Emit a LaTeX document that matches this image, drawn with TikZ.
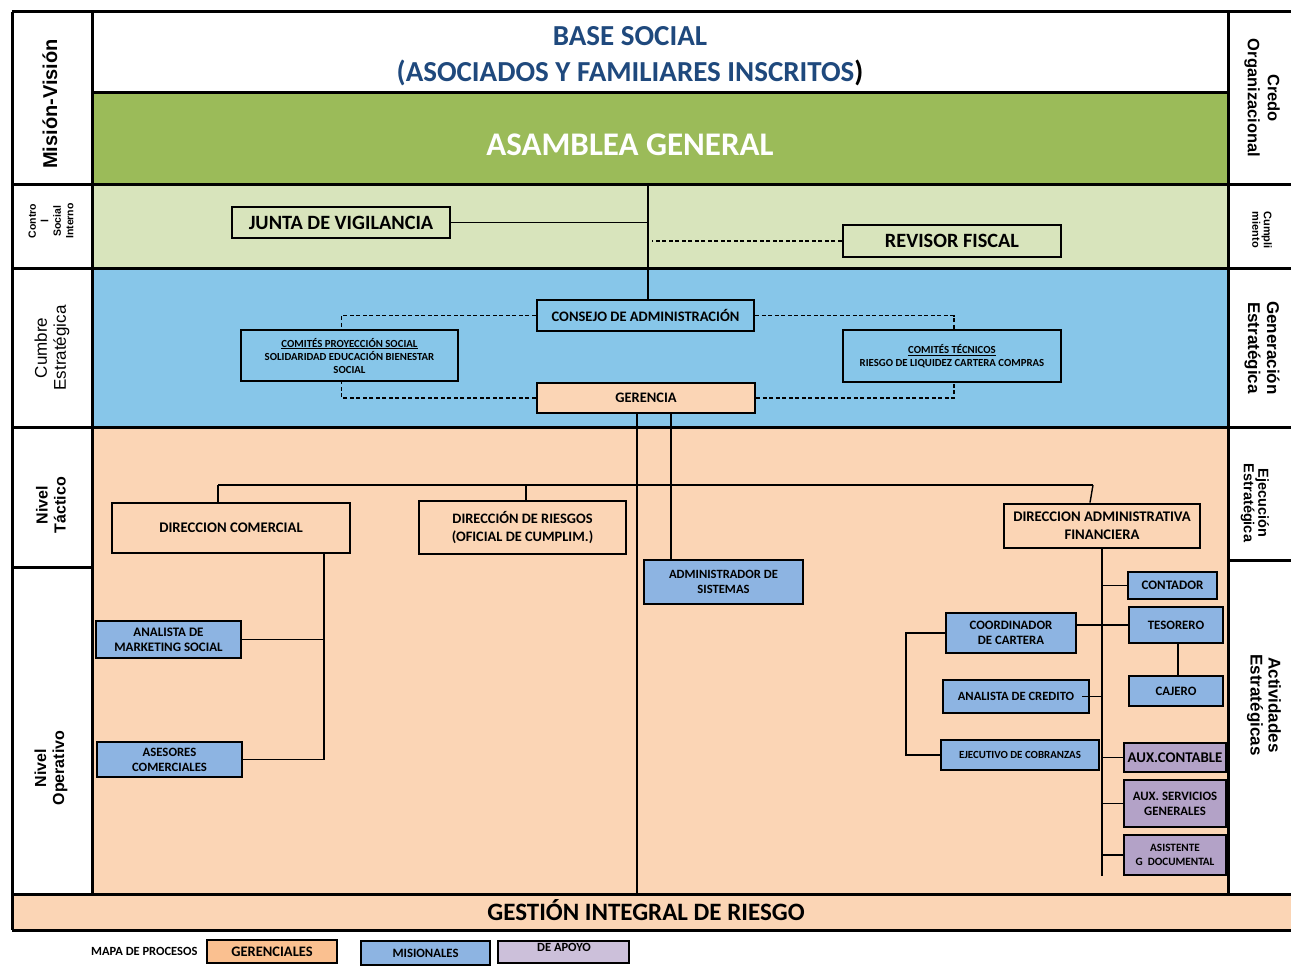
\documentclass[tikz,border=0pt]{standalone}
\usepackage{fontspec}
\setmainfont{Carlito}
\newfontfamily\arialfont{Liberation Sans}
\usetikzlibrary{calc}

\definecolor{titleblue}{HTML}{1F497D}
\definecolor{asmgreen}{HTML}{9BBB59}
\definecolor{ctrlgreen}{HTML}{D8E4BC}
\definecolor{cumbreblue}{HTML}{87C6E9}
\definecolor{peach}{HTML}{FBD5B5}
\definecolor{misblue}{HTML}{8DB4E2}
\definecolor{apoyo}{HTML}{B3A2C7}
\definecolor{leggerencial}{HTML}{FAC090}
\definecolor{legapoyo}{HTML}{CCC0DA}

\newcommand\fsz[2]{\fontsize{#1}{#2}\selectfont}
% box from corner (x1,y1) to (x2,y2): style, name, x1, y1, x2, y2, text
\newcommand\placebox[7]{%
  \pgfmathsetmacro\pbx{(#3+#5)/2}%
  \pgfmathsetmacro\pby{(#4+#6)/2}%
  \pgfmathsetmacro\pbw{#5-#3}%
  \pgfmathsetmacro\pbh{#6-#4}%
  \node[#1, minimum width=\pbw pt, minimum height=\pbh pt] (#2) at (\pbx,\pby) {#7};}

\begin{document}
\begin{tikzpicture}[x=1pt,y=-1pt,
  band/.style={draw=black, line width=3pt},
  obox/.style={draw=black, line width=2.8pt, inner sep=0pt, align=center, font=\bfseries},
  misbox/.style={obox, fill=misblue},
  apobox/.style={obox, fill=apoyo},
  legbox/.style={draw=black, line width=1.6pt, inner sep=0pt, align=center, font=\bfseries\fsz{14.5}{15}},
  conn/.style={draw=black, line width=1.4pt},
  dconn/.style={conn, dash pattern=on 4pt off 2.5pt},
  sidelab/.style={align=center, inner sep=0pt}]

\useasboundingbox (0,0) rectangle (1291,971);
\fill[white] (0,0) rectangle (1291,971);

% coloured bands
\fill[asmgreen] (92,93) rectangle (1228,185);
\fill[ctrlgreen] (92,185) rectangle (1228,268);
\fill[cumbreblue] (92,268) rectangle (1228,427);
\fill[peach] (92,427) rectangle (1228,894);
\fill[peach] (12,894) rectangle (1296,930);

% frame and row separators
\draw[band] (12,12) -- (1296,12);
\draw[band] (12,12) -- (12,930);
\draw[band] (92,12) -- (92,894);
\draw[band] (1228,12) -- (1228,894);
\draw[band] (92,93) -- (1228,93);
\draw[band] (12,185) -- (1296,185);
\draw[band] (12,268) -- (1296,268);
\draw[band] (12,427) -- (1296,427);
\draw[band] (12,567) -- (92,567);
\draw[band] (1228,560) -- (1296,560);
\draw[band] (12,894) -- (1296,894);
\draw[band] (12,930) -- (1296,930);

% band titles
\node[font=\bfseries\fsz{29}{36}, text=titleblue, align=center] (base) at (630,56)
  {BASE SOCIAL\\(ASOCIADOS Y FAMILIARES INSCRITOS{\color{black})}};
\node[font=\bfseries\fsz{33}{36}, text=white] (asamblea) at (630,145) {ASAMBLEA GENERAL};
\node[font=\bfseries\fsz{25}{26}] (gir) at (646,910) {GESTIÓN INTEGRAL DE RIESGO};

% left column
\node[sidelab, rotate=90, font=\arialfont\bfseries\fsz{20}{22}] (mision) at (50,104) {Misión-Visión};
\node[sidelab, rotate=90, font=\arialfont\bfseries\fsz{10.5}{12.5}] (control) at (51,221) {Contro\\l\\Social\\Interno};
\node[sidelab, rotate=90, font=\arialfont\fsz{17}{19}] (cumbre) at (52,348) {Cumbre\\Estratégica};
\node[sidelab, rotate=90, font=\arialfont\bfseries\fsz{16}{18}] (tactico) at (51,505) {Nivel\\Táctico};
\node[sidelab, rotate=90, font=\arialfont\bfseries\fsz{16}{18}] (operativo) at (51,768) {Nivel\\Operativo};

% right column
\node[sidelab, rotate=-90, font=\arialfont\bfseries\fsz{16.5}{20}] (credo) at (1262,98) {Credo\\Organizacional};
\node[sidelab, rotate=-90, font=\arialfont\bfseries\fsz{11}{11.5}] (cumpli) at (1262,230) {Cumpli\\miento};
\node[sidelab, rotate=-90, font=\arialfont\bfseries\fsz{17}{19}] (generacion) at (1262,348) {Generación\\Estratégica};
\node[sidelab, rotate=-90, font=\arialfont\bfseries\fsz{14.5}{14.5}] (ejecucion) at (1255,503) {Ejecución\\Estratégica};
\node[sidelab, rotate=-90, font=\arialfont\bfseries\fsz{17}{18}] (actividades) at (1264,705) {Actividades\\Estratégicas};

% control and strategic summit
\placebox{obox, font=\bfseries\fsz{20.3}{22}}{junta}{232}{207}{450}{238}{JUNTA DE VIGILANCIA}
\placebox{obox, font=\bfseries\fsz{20.3}{22}}{revisor}{843}{225}{1061}{257}{REVISOR FISCAL}
\placebox{obox, font=\bfseries\fsz{14.5}{16}}{consejo}{537}{300}{754}{331}{CONSEJO DE ADMINISTRACIÓN}
\placebox{obox, fill=peach, font=\bfseries\fsz{14.5}{16}}{gerencia}{537}{383}{755}{413}{GERENCIA}
\placebox{obox, font=\bfseries\fsz{10.8}{13}}{comsocial}{241}{330}{458}{381}{\underline{COMITÉS PROYECCIÓN SOCIAL}\\SOLIDARIDAD EDUCACIÓN BIENESTAR\\SOCIAL}
\placebox{obox, font=\bfseries\fsz{10.8}{13}}{comtec}{843}{330}{1061}{382}{\underline{COMITÉS TÉCNICOS}\\RIESGO DE LIQUIDEZ CARTERA COMPRAS}

% tactical level
\placebox{obox, font=\bfseries\fsz{14.7}{18}}{dcom}{112}{503}{350}{553}{DIRECCION COMERCIAL}
\placebox{obox, font=\bfseries\fsz{14.4}{18}}{driesgo}{419}{501}{626}{554}{DIRECCIÓN DE RIESGOS\\(OFICIAL DE CUMPLIM.)}
\placebox{obox, font=\bfseries\fsz{14.7}{18}}{daf}{1004}{504}{1200}{548}{DIRECCION ADMINISTRATIVA\\FINANCIERA}
\placebox{misbox, font=\bfseries\fsz{12.6}{15}}{admin}{644}{560}{803}{604}{ADMINISTRADOR DE\\SISTEMAS}

% operative level
\placebox{misbox, font=\bfseries\fsz{13}{15}}{marketing}{96}{621}{241}{658}{ANALISTA DE\\MARKETING SOCIAL}
\placebox{misbox, font=\bfseries\fsz{12.7}{15}}{asesores}{97}{742}{242}{777}{ASESORES\\COMERCIALES}
\placebox{misbox, font=\bfseries\fsz{13}{15}}{contador}{1128}{572}{1217}{599}{CONTADOR}
\placebox{misbox, font=\bfseries\fsz{12.8}{15}}{tesorero}{1129}{607}{1223}{643}{TESORERO}
\placebox{misbox, font=\bfseries\fsz{12.8}{15}}{cajero}{1129}{676}{1223}{706}{CAJERO}
\placebox{misbox, font=\bfseries\fsz{12.8}{15}}{coordinador}{946}{613}{1076}{653}{COORDINADOR\\DE CARTERA}
\placebox{misbox, font=\bfseries\fsz{12.6}{15}}{acredito}{943}{680}{1089}{713}{ANALISTA DE CREDITO}
\placebox{misbox, font=\bfseries\fsz{10.9}{15}}{cobranzas}{941}{740}{1099}{770}{EJECUTIVO DE COBRANZAS}
\placebox{apobox, font=\bfseries\fsz{14.8}{15}}{auxcont}{1124}{743}{1226}{772}{AUX.CONTABLE}
\placebox{apobox, font=\bfseries\fsz{12.8}{15}}{auxserv}{1124}{780}{1226}{827}{AUX. SERVICIOS\\GENERALES}
\placebox{apobox, font=\bfseries\fsz{11.2}{14}}{asistente}{1124}{835}{1226}{875}{ASISTENTE\\G\ \ DOCUMENTAL}

% connectors: assembly, control bodies and board
\coordinate (asm) at (648,186);
\coordinate (girtop) at (0,893);
\draw[conn] (asm) -- (asm |- consejo.north);
\draw[conn] (junta.east) -- (junta.east -| asm);
\draw[dconn] (revisor.west) -- ([xshift=4pt]revisor.west -| asm);
\draw[dconn] (consejo.west) -| ([xshift=-8pt]comsocial.north);
\draw[dconn] (gerencia.west) -| ([xshift=-8pt]comsocial.south);
\draw[dconn] (consejo.east) -| ([xshift=2pt]comtec.north);
\draw[dconn] (gerencia.east) -| ([xshift=2pt]comtec.south);

% connectors: management to directions
\coordinate (busL) at (218,485);
\coordinate (busR) at (1093,485);
\draw[conn] ([xshift=-9pt]gerencia.south) -- ([xshift=-9pt]gerencia.south |- girtop);
\draw[conn] ([xshift=25pt]gerencia.south) -- ([xshift=25pt]gerencia.south |- admin.north);
\draw[conn] (busL) -- (busR);
\draw[conn] (busL) -- (busL |- dcom.north);
\draw[conn] ([xshift=3.5pt]driesgo.north |- busL) -- ([xshift=3.5pt]driesgo.north);
\draw[conn] (busR) -- ([xshift=-12pt]daf.north);

% connectors: commercial direction
\coordinate (cv) at ([xshift=93pt]dcom.south);
\draw[conn] (cv) |- (asesores.east);
\draw[conn] (marketing.east) -- (marketing.east -| cv);

% connectors: administrative and financial direction
\coordinate (fv) at (daf.south);
\draw[conn] (fv) -- (fv |- asistente.south);
\draw[conn] (contador.west) -- (contador.west -| fv);
\draw[conn] (coordinador.east |- tesorero.west) -- (tesorero.west);
\draw[conn] ([xshift=2pt]tesorero.south) -- ([xshift=2pt]cajero.north);
\draw[conn] ([xshift=-8pt]acredito.east) -- (acredito.east -| fv);
\draw[conn] (auxcont.west) -- (auxcont.west -| fv);
\draw[conn] (auxserv.west) -- (auxserv.west -| fv);
\draw[conn] (asistente.west) -- (asistente.west -| fv);
\coordinate (lv) at (906,0);
\draw[conn] (coordinador.west) -- (coordinador.west -| lv) -- (cobranzas.west -| lv) -- (cobranzas.west);

% process legend
\node[font=\bfseries\fsz{12.5}{13}, anchor=east] (mapa) at (201,951) {MAPA DE PROCESOS};
\placebox{legbox, fill=leggerencial}{leggeren}{207}{940}{337}{963}{GERENCIALES}
\placebox{legbox, fill=misblue, font=\bfseries\fsz{12.7}{14}}{legmis}{361}{941}{490}{965}{MISIONALES}
\placebox{legbox, fill=legapoyo}{legapo}{498}{941}{629}{963}{}
\node[font=\bfseries\fsz{12.5}{13}] (legapotext) at (564,947) {DE APOYO};
\end{tikzpicture}
\end{document}
